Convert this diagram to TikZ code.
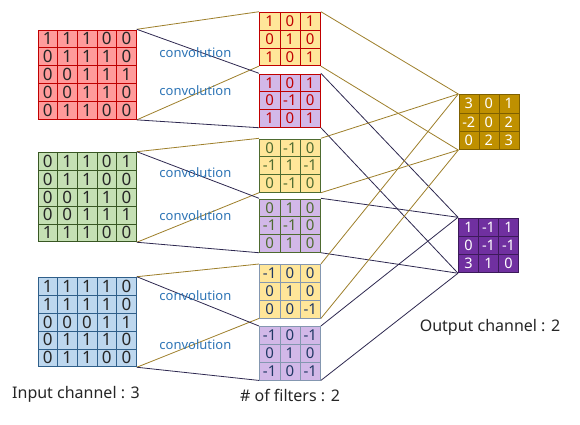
\documentclass[tikz,border=0pt]{standalone}
\usepackage{fontspec}
\setmainfont{Noto Sans}
\usetikzlibrary{matrix}

\definecolor{inred}{HTML}{FF9B9B}
\definecolor{edred}{HTML}{C00000}
\definecolor{ingreen}{HTML}{C5E0B4}
\definecolor{edgreen}{HTML}{385723}
\definecolor{inblue}{HTML}{BDD7EE}
\definecolor{edblue}{HTML}{2F5F8A}
\definecolor{fyellow}{HTML}{FFE699}
\definecolor{fpurple}{HTML}{D2B8E8}
\definecolor{fgreen}{HTML}{4E6B30}
\definecolor{fgray}{HTML}{8497B0}
\definecolor{fnavy}{HTML}{203864}
\definecolor{outgold}{HTML}{BF9000}
\definecolor{edgold}{HTML}{7F6000}
\definecolor{outpurple}{HTML}{7030A0}
\definecolor{edpurple}{HTML}{3C1A5A}
\definecolor{goldln}{HTML}{9E7F2A}
\definecolor{darkln}{HTML}{2E2850}
\definecolor{convblue}{HTML}{2E75B6}

\tikzset{
  inmat/.style 2 args={matrix of nodes, anchor=north west, inner sep=0pt,
    column sep=-0.6pt, row sep=-0.6pt,
    nodes={draw=#1, fill=#2, line width=0.6pt, minimum width=19.7pt,
      minimum height=17.9pt, inner sep=0pt, text=black!85,
      font=\fontsize{17}{17}\selectfont}},
  filtmat/.style n args={3}{matrix of nodes, anchor=north west, inner sep=0pt,
    column sep=-0.6pt, row sep=-0.6pt,
    nodes={draw=#1, fill=#2, line width=0.6pt, minimum width=20.3pt,
      minimum height=17.8pt, inner sep=0pt, text=#3,
      font=\fontsize{15}{15}\selectfont}},
  outmat/.style 2 args={matrix of nodes, anchor=north west, inner sep=0pt,
    column sep=-0.6pt, row sep=-0.6pt,
    nodes={draw=#1, fill=#2, line width=0.6pt, minimum width=20pt,
      minimum height=18.3pt, inner sep=0pt, text=white,
      font=\fontsize{14.5}{14.5}\selectfont}},
  goldline/.style={goldln, line width=0.8pt},
  darkline/.style={darkln, line width=0.8pt},
  conv/.style={text=convblue, font=\fontsize{13}{13}\selectfont},
  caption/.style={text=black!85, font=\fontsize{16}{16}\selectfont}
}

\begin{document}
\begin{tikzpicture}[x=1pt, y=-1pt]
\useasboundingbox[fill=white] (0,0) rectangle (580,424);

% input channels
\matrix (ch1) [inmat={edred}{inred}] at (37.3,29.3) {
1 & 1 & 1 & 0 & 0 \\
0 & 1 & 1 & 1 & 0 \\
0 & 0 & 1 & 1 & 1 \\
0 & 0 & 1 & 1 & 0 \\
0 & 1 & 1 & 0 & 0 \\
};
\matrix (ch2) [inmat={edgreen}{ingreen}] at (37.3,151.7) {
0 & 1 & 1 & 0 & 1 \\
0 & 1 & 1 & 0 & 0 \\
0 & 0 & 1 & 1 & 0 \\
0 & 0 & 1 & 1 & 1 \\
1 & 1 & 1 & 0 & 0 \\
};
\matrix (ch3) [inmat={edblue}{inblue}] at (37.3,276.7) {
1 & 1 & 1 & 1 & 0 \\
1 & 1 & 1 & 1 & 0 \\
0 & 0 & 0 & 1 & 1 \\
0 & 1 & 1 & 1 & 0 \\
0 & 1 & 1 & 0 & 0 \\
};

% filters
\matrix (fa1) [filtmat={edred}{fyellow}{edred}] at (259,11.7) {
1 & 0 & 1 \\
0 & 1 & 0 \\
1 & 0 & 1 \\
};
\matrix (fb1) [filtmat={edred}{fpurple}{edred}] at (259,73.3) {
1 & 0 & 1 \\
0 & -1 & 0 \\
1 & 0 & 1 \\
};
\matrix (fa2) [filtmat={fgreen}{fyellow}{fgreen}] at (259,138.3) {
0 & -1 & 0 \\
-1 & 1 & -1 \\
0 & -1 & 0 \\
};
\matrix (fb2) [filtmat={fgreen}{fpurple}{fgreen}] at (259,198.3) {
0 & 1 & 0 \\
-1 & -1 & 0 \\
0 & 1 & 0 \\
};
\matrix (fa3) [filtmat={fgray}{fyellow}{fnavy}] at (259,264) {
-1 & 0 & 0 \\
0 & 1 & 0 \\
0 & 0 & -1 \\
};
\matrix (fb3) [filtmat={fgray}{fpurple}{fnavy}] at (259,326) {
-1 & 0 & -1 \\
0 & 1 & 0 \\
-1 & 0 & -1 \\
};

% output channels
\matrix (out1) [outmat={edgold}{outgold}] at (458.3,94) {
3 & 0 & 1 \\
-2 & 0 & 2 \\
0 & 2 & 3 \\
};
\matrix (out2) [outmat={edpurple}{outpurple}] at (458,217.3) {
1 & -1 & 1 \\
0 & -1 & -1 \\
3 & 1 & 0 \\
};

% connectors
\foreach \i in {1,2,3} {
  \draw[goldline] (ch\i.north east) -- (fa\i.north west);
  \draw[goldline] (ch\i.south east) -- (fa\i.south west);
  \draw[darkline] (ch\i.north east) -- (fb\i.north west);
  \draw[darkline] (ch\i.south east) -- (fb\i.south west);
  \draw[goldline] (fa\i.north east) -- (out1.north west);
  \draw[goldline] (fa\i.south east) -- (out1.south west);
  \draw[darkline] (fb\i.north east) -- (out2.north west);
  \draw[darkline] (fb\i.south east) -- (out2.south west);
}

% labels
\node[conv] (cv1) at (195.4,53) {convolution};
\node[conv] (cv2) at (195.4,91) {convolution};
\node[conv] (cv3) at (195.4,173) {convolution};
\node[conv] (cv4) at (195.4,216) {convolution};
\node[conv] (cv5) at (195.4,296) {convolution};
\node[conv] (cv6) at (195.4,345) {convolution};

\node[caption] (lin) at (76,394) {Input channel : 3};
\node[caption] (lfilt) at (290,395) {\# of filters : 2};
\node[caption] (lout) at (490,327) {Output channel : 2};
\end{tikzpicture}
\end{document}
